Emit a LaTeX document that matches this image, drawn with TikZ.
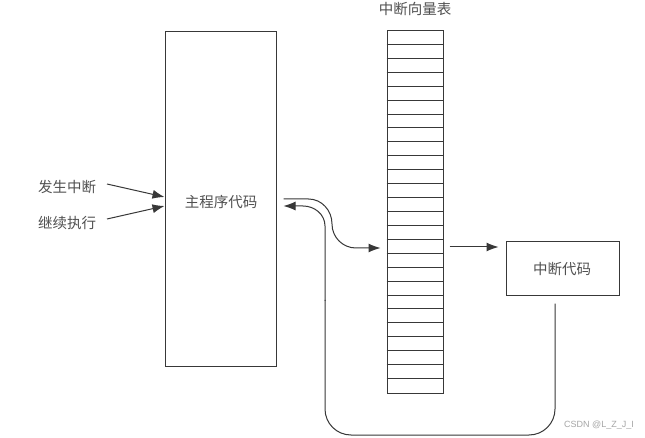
\documentclass[tikz,border=0pt]{standalone}
\usepackage{fontspec}
\newfontfamily\cjk{Noto Sans CJK SC}
\usetikzlibrary{arrows.meta,calc}
\definecolor{ink}{HTML}{383838}
\definecolor{txt}{HTML}{505050}
\begin{document}
\begin{tikzpicture}[x=1pt,y=-1pt,
  line/.style={draw=ink,line width=1pt},
  arr/.style={line,-{Latex[length=12pt,width=9pt]}},
  lbl/.style={text=txt,font=\cjk\fontsize{14.5}{16}\selectfont,inner sep=0pt},
  boxstyle/.style={line,rectangle,inner sep=0pt}]
\useasboundingbox[fill=white] (0,0) rectangle (645,438);
% main program box
\node[boxstyle,minimum width=111pt,minimum height=334pt] (main) at (220.5,199) {};
\node[lbl] (maintxt) at (221,202) {主程序代码};
% vector table
\node[boxstyle,minimum width=56pt,minimum height=362pt] (vt) at (415,212) {};
\foreach \i in {1,...,25}{
  \draw[ink,line width=1pt] ($(vt.north west)+(0,\i*13.923)$) -- ($(vt.north east)+(0,\i*13.923)$);
}
\node[lbl] (vttitle) at (415,9) {中断向量表};
% interrupt code box
\node[boxstyle,minimum width=113pt,minimum height=54pt] (isr) at (562.5,269) {};
\node[lbl] (isrtxt) at (562,269) {中断代码};
% left labels
\node[lbl] (occur) at (67,187) {发生中断};
\node[lbl] (resume) at (67,223) {继续执行};
\coordinate (occurStart) at (107,184);
\coordinate (resumeStart) at (107,219);
\coordinate (occurEnd) at ($(main.west)+(0,-2)$);
\coordinate (resumeEnd) at ($(main.west)+(0,7)$);
\draw[arr] (occurStart) -- (occurEnd);
\draw[arr] (resumeStart) -- (resumeEnd);
% out to vector table
\coordinate (outStart) at ($(main.east)+(7,0)$);
\coordinate (outEnd) at ($(vt.west)+(-6,36)$);
\draw[arr] (outStart) -- ++(25,0) to[out=0,in=90] (332,224) to[out=-90,in=180] (356,248) -- (outEnd);
% vector table to isr
\draw[arr] ($(vt.east)+(6,35)$) -- ($(isr.west)+(-7,-22)$);
% return path
\coordinate (retStart) at ($(isr.south)+(-7.5,7)$);
\coordinate (retEnd) at ($(main.east)+(7,7)$);
\draw[line,rounded corners=26pt] (retStart) -- (555,435) -- (325,435) -- (325,300);
\draw[arr] (325,301) -- (325,226) to[out=90,in=0] (303,206) -- (retEnd);
% watermark
\node[text=black!35,font=\fontspec{Liberation Sans}\fontsize{9}{10}\selectfont,inner sep=0pt] (wm) at (599,425) {CSDN @L\_Z\_J\_I};
\end{tikzpicture}
\end{document}
